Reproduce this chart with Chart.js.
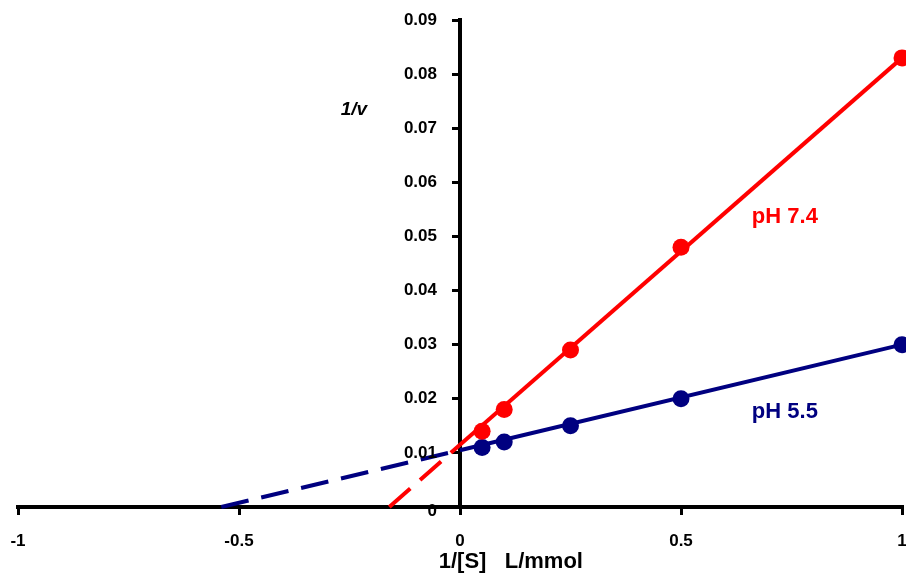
<!DOCTYPE html>
<html>
<head>
<meta charset="utf-8">
<script src="https://cdn.jsdelivr.net/npm/chart.js@4/dist/chart.umd.min.js"></script>
<style>
  html, body { margin: 0; padding: 0; background: #fff; }
  #wrap { width: 906px; height: 575px; }
</style>
</head>
<body>
<div id="wrap"><canvas id="lbChart" width="906" height="575"></canvas></div>
<script>
// --- Data ---
const substrateInv = [0.05, 0.1, 0.25, 0.5, 1];          // 1/[S], L/mmol
const rateInvPH74 = [0.014, 0.018, 0.029, 0.048, 0.083];  // 1/v at pH 7.4
const rateInvPH55 = [0.011, 0.012, 0.015, 0.020, 0.030];  // 1/v at pH 5.5

// fitted lines: [x-intercept, y at 0, y at 1]
const fitX74 = [-0.16, 0, 1];
const fitY74 = [0, 0.0115, 0.083];
const fitX55 = [-0.54, 0, 1];
const fitY55 = [0, 0.0105, 0.030];

const xTicks = [-1, -0.5, 0, 0.5, 1];
const yTicks = [0, 0.01, 0.02, 0.03, 0.04, 0.05, 0.06, 0.07, 0.08, 0.09];

const RED = '#ff0000';
const NAVY = '#000080';
const FONT = '"Liberation Sans", Arial, sans-serif';

function pts(xs, ys) {
    return xs.map((x, i) => ({ x: x, y: ys[i] }));
}

// the end tick labels may hang over the edge; don't let them shrink the plot
function noScalePadding(scale) {
    scale.paddingLeft = 0;
    scale.paddingRight = 0;
    scale.paddingTop = 0;
    scale.paddingBottom = 0;
}

// --- Text drawn on top of the chart ---
const labelPlugin = {
    id: 'labels',
    afterDraw(chart) {
        const ctx = chart.ctx;
        const xs = chart.scales.x;
        const ys = chart.scales.y;
        ctx.save();
        ctx.textBaseline = 'middle';

        // y tick labels, left of the axis sitting at x = 0
        ctx.font = 'bold 17px ' + FONT;
        ctx.fillStyle = '#000';
        ctx.textAlign = 'right';
        const axisX = xs.getPixelForValue(0);
        yTicks.forEach(v => {
            const lbl = v === 0 ? '0' : v.toFixed(2);
            ctx.fillText(lbl, axisX - 23, ys.getPixelForValue(v) + (v === 0 ? 4 : 0));
        });

        // series labels
        ctx.font = 'bold 22px ' + FONT;
        ctx.textAlign = 'center';
        ctx.fillStyle = RED;
        ctx.fillText('pH 7.4', xs.getPixelForValue(0.735), ys.getPixelForValue(0.0536));
        ctx.fillStyle = NAVY;
        ctx.fillText('pH 5.5', xs.getPixelForValue(0.735), ys.getPixelForValue(0.0176));

        // y axis title "1/v"
        ctx.fillStyle = '#000';
        ctx.textAlign = 'left';
        ctx.font = 'italic bold 19px ' + FONT;
        const tx = xs.getPixelForValue(-0.27);
        const ty = ys.getPixelForValue(0.0734);
        ctx.fillText('1/', tx, ty);
        const w = ctx.measureText('1/').width;
        ctx.fillText('v', tx + w, ty);

        // x axis title
        ctx.font = 'bold 22px ' + FONT;
        ctx.textAlign = 'center';
        ctx.fillText('1/[S]   L/mmol', xs.getPixelForValue(0.115), chart.chartArea.bottom + 55);
        ctx.restore();
    }
};

new Chart(document.getElementById('lbChart'), {
    type: 'scatter',
    data: {
        datasets: [
            { // pH 7.4 extrapolation
                data: pts(fitX74.slice(0, 2), fitY74.slice(0, 2)),
                showLine: true, borderColor: RED, borderWidth: 4, borderDash: [28, 13],
                pointRadius: 0
            },
            {
                data: pts(fitX74.slice(1), fitY74.slice(1)),
                showLine: true, borderColor: RED, borderWidth: 4, pointRadius: 0
            },
            {
                data: pts(substrateInv, rateInvPH74),
                backgroundColor: RED, borderColor: RED, pointRadius: 8.5, pointBorderWidth: 0
            },
            { // pH 5.5 extrapolation
                data: pts(fitX55.slice(0, 2), fitY55.slice(0, 2)),
                showLine: true, borderColor: NAVY, borderWidth: 4, borderDash: [28, 13],
                pointRadius: 0
            },
            {
                data: pts(fitX55.slice(1), fitY55.slice(1)),
                showLine: true, borderColor: NAVY, borderWidth: 4, pointRadius: 0
            },
            {
                data: pts(substrateInv, rateInvPH55),
                backgroundColor: NAVY, borderColor: NAVY, pointRadius: 8.5, pointBorderWidth: 0
            }
        ]
    },
    options: {
        responsive: false,
        animation: false,
        clip: false,
        layout: { autoPadding: false, padding: { left: 18, right: 4, top: 20, bottom: 68 } },
        plugins: {
            legend: { display: false },
            tooltip: { enabled: false }
        },
        scales: {
            x: {
                type: 'linear',
                min: -1, max: 1,
                position: { y: 0 },
                afterBuildTicks: (s) => { s.ticks = xTicks.map(v => ({ value: v })); },
                afterFit: noScalePadding,
                ticks: {
                    color: '#000', font: { family: FONT, size: 17, weight: 'bold' },
                    padding: 18, maxRotation: 0,
                    callback: (v) => String(v)
                },
                grid: { drawOnChartArea: false, drawTicks: true, tickLength: 6, color: '#000', lineWidth: 3 },
                border: { display: true, color: '#000', width: 4 }
            },
            y: {
                type: 'linear',
                min: 0, max: 0.09,
                position: { x: 0 },
                afterBuildTicks: (s) => { s.ticks = yTicks.map(v => ({ value: v })); },
                afterFit: noScalePadding,
                ticks: { display: false },
                grid: { drawOnChartArea: false, drawTicks: true, tickLength: 6, color: '#000', lineWidth: 3 },
                border: { display: true, color: '#000', width: 4 }
            }
        }
    },
    plugins: [labelPlugin]
});
</script>
</body>
</html>
